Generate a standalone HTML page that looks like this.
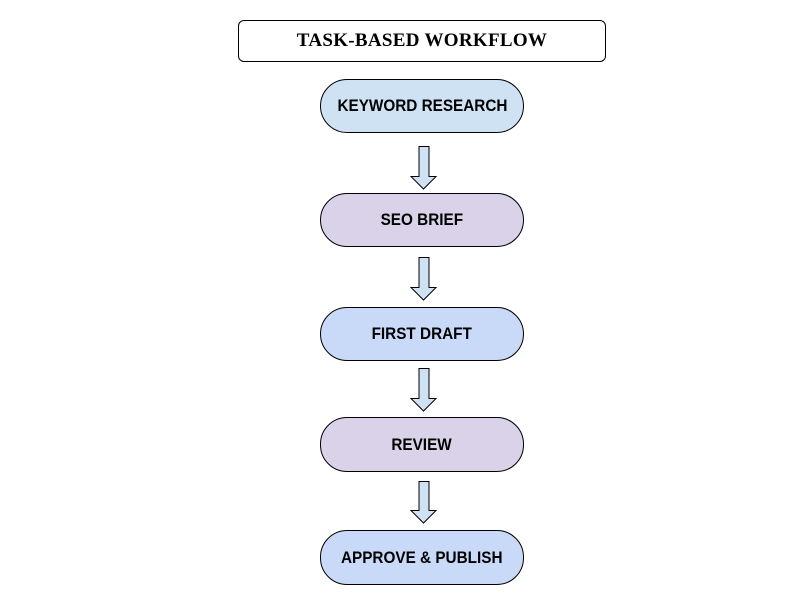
<!DOCTYPE html>
<html><head><meta charset="utf-8"><style>
body{margin:0;background:#fff;width:800px;height:600px;overflow:hidden;position:relative}
.t{position:absolute;left:238px;top:20px;width:368px;height:42px;border:1px solid #000;border-radius:6px;box-sizing:border-box;display:flex;align-items:center;justify-content:center;font:bold 19px "Liberation Serif",serif;letter-spacing:0.3px}
.n{position:absolute;left:320px;width:204px;border:1px solid #000;border-radius:27px;box-sizing:border-box;display:flex;align-items:center;justify-content:center;font:bold 17px "Liberation Sans Narrow","Liberation Sans",sans-serif;transform-origin:center}
.n span{display:inline-block;transform:scaleX(0.9)}
svg{position:absolute;left:0;top:0}
</style></head><body>
<div class="t">TASK-BASED WORKFLOW</div>
<div class="n" style="top:79px;height:54px;background:#cfe2f3"><span>KEYWORD RESEARCH</span></div>
<div class="n" style="top:193px;height:54px;background:#d9d2e9"><span>SEO BRIEF</span></div>
<div class="n" style="top:307px;height:54px;background:#c9daf8"><span>FIRST DRAFT</span></div>
<div class="n" style="top:417px;height:55px;background:#d9d2e9"><span>REVIEW</span></div>
<div class="n" style="top:530px;height:55px;background:#c9daf8"><span>APPROVE &amp; PUBLISH</span></div>
<svg width="800" height="600">
<g fill="#cfe2f3" stroke="#000" stroke-width="1">
<path d="M419,146.5 H429 V176.5 H436 L423.5,189 L411,176.5 H419 Z"/>
<path d="M419,257.5 H429 V287.5 H436 L423.5,300 L411,287.5 H419 Z"/>
<path d="M419,368.5 H429 V398.5 H436 L423.5,411 L411,398.5 H419 Z"/>
<path d="M419,481.5 H429 V510.5 H436 L423.5,523 L411,510.5 H419 Z"/>
</g></svg>
</body></html>
